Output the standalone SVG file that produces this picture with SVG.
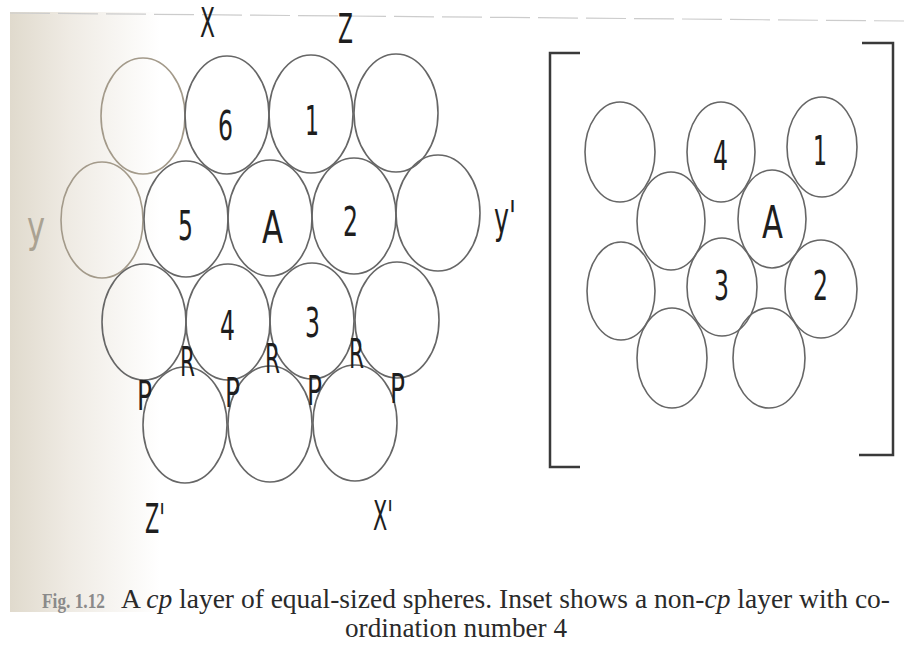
<svg xmlns="http://www.w3.org/2000/svg" width="904" height="646" viewBox="0 0 904 646">
<defs>
<linearGradient id="page" x1="0" y1="0" x2="1" y2="0">
<stop offset="0" stop-color="#e0dacd"/>
<stop offset="0.4" stop-color="#efebe4"/>
<stop offset="1" stop-color="#ffffff"/>
</linearGradient>
<style>
.c{fill:none;stroke:#666;stroke-width:1.6}
.cf{fill:none;stroke:#a39a8a;stroke-width:1.6}
.t{font-family:"DejaVu Sans","Liberation Sans",sans-serif;fill:#1e1e1e}
.d{font-size:40px}
.a{font-size:45px}
.cap{font-family:"Liberation Serif","Times New Roman",serif;font-size:27px;fill:#2a2a2a}
.br{fill:none;stroke:#3a3a3a;stroke-width:2.5}
</style>
</defs>
<rect width="904" height="646" fill="#fff"/>
<rect x="10" y="12" width="150" height="600" fill="url(#page)"/>
<line x1="10" y1="13" x2="904" y2="21" stroke="#ccc" stroke-width="1.2" stroke-dasharray="40 8"/>

<!-- left cp layer -->
<g id="cp-layer">
<g id="r1c1"><ellipse class="cf" cx="143" cy="116" rx="42" ry="58"/></g>
<g id="s6"><ellipse class="c" cx="227" cy="115" rx="42" ry="59"/><text class="t d" x="218" y="140" textLength="15" lengthAdjust="spacingAndGlyphs">6</text></g>
<g id="s1"><ellipse class="c" cx="311" cy="114" rx="42" ry="59"/><text class="t d" x="305" y="135" textLength="14" lengthAdjust="spacingAndGlyphs">1</text></g>
<g id="r1c4"><ellipse class="c" cx="396" cy="113" rx="42" ry="59"/></g>

<g id="r2c1"><ellipse class="cf" cx="102" cy="220" rx="41" ry="58"/></g>
<g id="s5"><ellipse class="c" cx="186" cy="219" rx="42" ry="58"/><text class="t d" x="178" y="240" textLength="15" lengthAdjust="spacingAndGlyphs">5</text></g>
<g id="sA"><ellipse class="c" cx="270" cy="218" rx="42" ry="58"/><text class="t a" x="262" y="243" textLength="21" lengthAdjust="spacingAndGlyphs">A</text></g>
<g id="s2"><ellipse class="c" cx="354" cy="216" rx="42" ry="58"/><text class="t d" x="343" y="236" textLength="15" lengthAdjust="spacingAndGlyphs">2</text></g>
<g id="r2c5"><ellipse class="c" cx="438" cy="213" rx="42" ry="58"/></g>

<g id="r3c1"><ellipse class="c" cx="144" cy="322" rx="42" ry="58"/></g>
<g id="s4"><ellipse class="c" cx="228" cy="322" rx="42" ry="58"/><text class="t d" x="220" y="340" textLength="15" lengthAdjust="spacingAndGlyphs">4</text></g>
<g id="s3"><ellipse class="c" cx="312" cy="321" rx="42" ry="58"/><text class="t d" x="305" y="337" textLength="15" lengthAdjust="spacingAndGlyphs">3</text></g>
<g id="r3c4"><ellipse class="c" cx="397" cy="320" rx="42" ry="58"/></g>

<g id="r4c1"><ellipse class="c" cx="185" cy="425" rx="42" ry="58"/></g>
<g id="r4c2"><ellipse class="c" cx="270" cy="424" rx="42" ry="58"/></g>
<g id="r4c3"><ellipse class="c" cx="355" cy="423" rx="42" ry="58"/></g>

<g id="labels-R">
<text class="t d" x="180" y="376" textLength="15" lengthAdjust="spacingAndGlyphs">R</text>
<text class="t d" x="265" y="373" textLength="15" lengthAdjust="spacingAndGlyphs">R</text>
<text class="t d" x="349" y="368" textLength="15" lengthAdjust="spacingAndGlyphs">R</text>
</g>
<g id="labels-P">
<text class="t d" x="137" y="410" textLength="15" lengthAdjust="spacingAndGlyphs">P</text>
<text class="t d" x="225" y="407" textLength="15" lengthAdjust="spacingAndGlyphs">P</text>
<text class="t d" x="307" y="405" textLength="15" lengthAdjust="spacingAndGlyphs">P</text>
<text class="t d" x="390" y="403" textLength="15" lengthAdjust="spacingAndGlyphs">P</text>
</g>
<g id="axes">
<text class="t d" x="200" y="37" textLength="15" lengthAdjust="spacingAndGlyphs">X</text>
<text class="t d" x="338" y="43" textLength="15" lengthAdjust="spacingAndGlyphs">Z</text>
<text class="t a" x="27" y="242" textLength="18" lengthAdjust="spacingAndGlyphs" style="fill:#aaa292">y</text>
<text class="t a" x="494" y="233" textLength="22" lengthAdjust="spacingAndGlyphs">y'</text>
<text class="t d" x="145" y="533" textLength="20" lengthAdjust="spacingAndGlyphs">Z'</text>
<text class="t d" x="373" y="530" textLength="20" lengthAdjust="spacingAndGlyphs">X'</text>
</g>
</g>

<!-- inset non-cp layer -->
<g id="inset">
<path class="br" d="M580,53 H550 V467 H580"/>
<path class="br" d="M862,43 H893 V455 H859"/>
<g id="i1"><ellipse class="c" cx="620" cy="152" rx="35" ry="50"/></g>
<g id="i4"><ellipse class="c" cx="721" cy="152" rx="34" ry="50"/><text class="t d" x="713" y="170" textLength="15" lengthAdjust="spacingAndGlyphs">4</text></g>
<g id="i1n"><ellipse class="c" cx="822" cy="147" rx="35" ry="50"/><text class="t d" x="813" y="165" textLength="14" lengthAdjust="spacingAndGlyphs">1</text></g>
<g id="i5"><ellipse class="c" cx="671" cy="221" rx="34" ry="49"/></g>
<g id="iA"><ellipse class="c" cx="772" cy="219" rx="34" ry="49"/><text class="t a" x="762" y="238" textLength="21" lengthAdjust="spacingAndGlyphs">A</text></g>
<g id="i7"><ellipse class="c" cx="621" cy="291" rx="34" ry="49"/></g>
<g id="i3"><ellipse class="c" cx="722" cy="287" rx="35" ry="49"/><text class="t d" x="714" y="300" textLength="15" lengthAdjust="spacingAndGlyphs">3</text></g>
<g id="i2"><ellipse class="c" cx="821" cy="289" rx="36" ry="49"/><text class="t d" x="813" y="300" textLength="15" lengthAdjust="spacingAndGlyphs">2</text></g>
<g id="i10"><ellipse class="c" cx="672" cy="358" rx="35" ry="50"/></g>
<g id="i11"><ellipse class="c" cx="769" cy="358" rx="36" ry="50"/></g>
</g>

<!-- caption -->
<g id="caption">
<text class="cap" x="42" y="608" textLength="63" lengthAdjust="spacingAndGlyphs" style="font-size:21px;font-weight:bold;fill:#8a8a8a">Fig. 1.12</text>
<text class="cap" x="121" y="608" textLength="769" lengthAdjust="spacingAndGlyphs">A <tspan font-style="italic">cp</tspan> layer of equal-sized spheres. Inset shows a non-<tspan font-style="italic">cp</tspan> layer with co-</text>
<text class="cap" x="345" y="637" textLength="222" lengthAdjust="spacingAndGlyphs">ordination number 4</text>
</g>
</svg>
